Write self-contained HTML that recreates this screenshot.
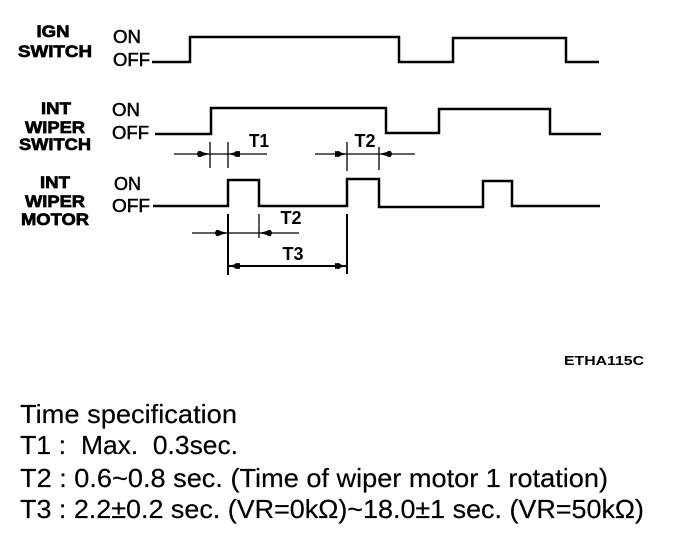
<!DOCTYPE html>
<html><head><meta charset="utf-8"><style>
html,body{margin:0;padding:0;background:#fff;width:688px;height:540px;overflow:hidden}
svg{display:block}
text{font-family:"Liberation Sans",sans-serif;fill:#000}
.b{font-weight:bold;font-size:17px;text-anchor:middle;stroke:#000;stroke-width:.7px}
.o{font-size:18px;stroke:#000;stroke-width:.5px}
.t{font-size:18px;font-weight:bold;text-anchor:middle}
.s{font-size:26px;stroke:#000;stroke-width:.2px}
</style></head><body>
<svg width="688" height="540" viewBox="0 0 688 540">
<g fill="none" stroke="#000">
<path stroke-width="2.5" d="M152 62H190V37H399V62H453V38H566V62H599"/>
<path stroke-width="2.5" d="M155 134H211V108H386V133H439V109H550V134H601"/>
<path stroke-width="2.5" d="M153 206H228V180H259V206H347V179H379V207H483V181H512V206H600"/>
<path stroke-width="1.3" d="M174 154H267M210 142V168M228 142V168M315 154H415M347 142V171M379 147V170M192 233H299M259 214V238"/>
<path stroke-width="2" d="M228 214V275M347 214V274M228 266H347"/>
</g>
<g fill="#000">
<path d="M198 151L210 154L198 157Z"/><ellipse cx="200" cy="154" rx="3" ry="3"/>
<path d="M240 151L228 154L240 157Z"/><ellipse cx="237" cy="154" rx="3" ry="3"/>
<path d="M335 151L347 154L335 157Z"/><ellipse cx="338" cy="154" rx="3" ry="3"/>
<path d="M391 151L379 154L391 157Z"/><ellipse cx="389" cy="154" rx="3" ry="3"/>
<path d="M216 230L228 233L216 236Z"/><ellipse cx="218" cy="233" rx="3" ry="3"/>
<path d="M271 230L259 233L271 236Z"/><ellipse cx="269" cy="233" rx="3" ry="3"/>
<path d="M240 263L228 266L240 269Z"/><ellipse cx="237" cy="266" rx="3" ry="3"/>
<path d="M335 263L347 266L335 269Z"/><ellipse cx="338" cy="266" rx="3" ry="3"/>
</g>
<text class="b" x="53" y="37" textLength="33" lengthAdjust="spacingAndGlyphs">IGN</text>
<text class="b" x="55" y="57" textLength="74" lengthAdjust="spacingAndGlyphs">SWITCH</text>
<text class="b" x="56" y="114" textLength="30" lengthAdjust="spacingAndGlyphs">INT</text>
<text class="b" x="55" y="133" textLength="60" lengthAdjust="spacingAndGlyphs">WIPER</text>
<text class="b" x="55" y="150" textLength="72" lengthAdjust="spacingAndGlyphs">SWITCH</text>
<text class="b" x="55" y="188" textLength="30" lengthAdjust="spacingAndGlyphs">INT</text>
<text class="b" x="55" y="207" textLength="60" lengthAdjust="spacingAndGlyphs">WIPER</text>
<text class="b" x="55" y="225" textLength="68" lengthAdjust="spacingAndGlyphs">MOTOR</text>
<text class="o" x="113" y="43" textLength="28" lengthAdjust="spacingAndGlyphs">ON</text>
<text class="o" x="113" y="66" textLength="37" lengthAdjust="spacingAndGlyphs">OFF</text>
<text class="o" x="112" y="116" textLength="28" lengthAdjust="spacingAndGlyphs">ON</text>
<text class="o" x="112" y="139" textLength="37" lengthAdjust="spacingAndGlyphs">OFF</text>
<text class="o" x="114" y="190" textLength="27" lengthAdjust="spacingAndGlyphs">ON</text>
<text class="o" x="112" y="212" textLength="38" lengthAdjust="spacingAndGlyphs">OFF</text>
<text class="t" x="259" y="147" textLength="20" lengthAdjust="spacingAndGlyphs">T1</text>
<text class="t" x="365" y="147" textLength="21" lengthAdjust="spacingAndGlyphs">T2</text>
<text class="t" x="291" y="224" textLength="21" lengthAdjust="spacingAndGlyphs">T2</text>
<text class="t" x="293" y="260" textLength="21" lengthAdjust="spacingAndGlyphs">T3</text>
<text x="604" y="365" font-size="13" font-weight="bold" text-anchor="middle" textLength="80" lengthAdjust="spacingAndGlyphs">ETHA115C</text>
<text class="s" x="20" y="423" textLength="217" lengthAdjust="spacingAndGlyphs">Time specification</text>
<text class="s" x="20" y="454" textLength="46" xml:space="preserve" lengthAdjust="spacingAndGlyphs">T1 :</text>
<text class="s" x="81" y="454" textLength="157" xml:space="preserve" lengthAdjust="spacingAndGlyphs">Max.  0.3sec.</text>
<text class="s" x="20" y="487" textLength="588" xml:space="preserve" lengthAdjust="spacingAndGlyphs">T2 : 0.6~0.8 sec. (Time of wiper motor 1 rotation)</text>
<text class="s" x="20" y="518" textLength="624" xml:space="preserve" lengthAdjust="spacingAndGlyphs">T3 : 2.2±0.2 sec. (VR=0kΩ)~18.0±1 sec. (VR=50kΩ)</text>
</svg>
</body></html>
